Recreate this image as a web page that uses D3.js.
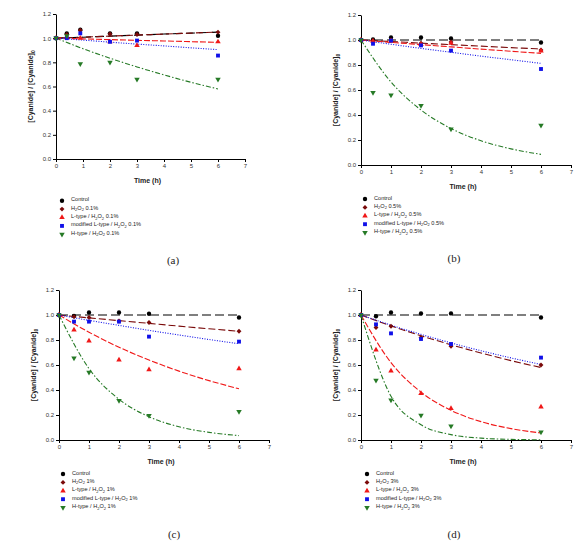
<!DOCTYPE html>
<html><head><meta charset="utf-8">
<script src="https://cdn.jsdelivr.net/npm/d3@7"></script>
<style>body{margin:0;background:#fff}svg{display:block}</style>
</head><body>
<script>
// ---------------- DATA ----------------
const panelLabels = ["(a)","(b)","(c)","(d)"];
const concentrations = ["0.1%","0.5%","1%","3%"];
const seriesKeys = ["control","h2o2","ltype","modl","htype"];
const xTicks = [0,1,2,3,4,5,6,7];
const yTicks = [0,0.2,0.4,0.6,0.8,1.0,1.2];
const fitTimes = [0,1,2,3,4,5,6];

const timesA = [0,0.4,0.9,2,3,6];
const timesB = [0,0.4,1,2,3,6];
const timesC = [0,0.5,1,2,3,6];
const timesD = [0,0.5,1,2,3,6];

// measured points
const a_control = [1.0,1.04,1.07,1.04,1.04,1.02];
const a_h2o2    = [1.0,1.03,1.065,1.035,1.03,1.05];
const a_ltype   = [1.0,1.01,1.0,0.97,0.94,0.97];
const a_modl    = [1.0,1.0,1.04,0.97,0.98,0.856];
const a_htype   = [1.0,1.02,0.787,0.80,0.66,0.66];

const b_control = [1,1.005,1.02,1.02,1.013,0.98];
const b_h2o2    = [1,0.995,1.0,0.975,0.985,0.92];
const b_ltype   = [1,0.99,0.99,0.965,0.975,0.912];
const b_modl    = [1,0.97,0.995,0.957,0.915,0.768];
const b_htype   = [1,0.579,0.56,0.475,0.288,0.317];

const c_control = [1,0.992,1.02,1.02,1.01,0.98];
const c_h2o2    = [1,0.987,0.98,0.952,0.94,0.87];
const c_ltype   = [1,0.88,0.792,0.64,0.563,0.571];
const c_modl    = [1,0.947,0.947,0.947,0.827,0.787];
const c_htype   = [1,0.656,0.541,0.315,0.195,0.227];

const d_control = [1,0.99,1.02,1.013,1.013,0.98];
const d_h2o2    = [1,0.90,0.91,0.82,0.75,0.60];
const d_ltype   = [1,0.72,0.552,0.373,0.253,0.264];
const d_modl    = [1,0.925,0.853,0.808,0.768,0.659];
const d_htype   = [1,0.477,0.32,0.197,0.112,0.064];

// fitted curves read at t = 0..6
const a_fit_control = [1.0,1.008,1.017,1.025,1.034,1.042,1.05];
const a_fit_h2o2    = [1.0,1.008,1.017,1.025,1.034,1.042,1.05];
const a_fit_ltype   = [1.0,0.994,0.988,0.982,0.977,0.971,0.965];
const a_fit_modl    = [1.0,0.984,0.967,0.951,0.936,0.920,0.905];
const a_fit_htype   = [1.0,0.913,0.834,0.762,0.696,0.635,0.58];

const b_fit_control = [1,1,1,1,1,1,1];
const b_fit_h2o2    = [1,0.988,0.975,0.963,0.951,0.939,0.928];
const b_fit_ltype   = [1,0.981,0.963,0.945,0.927,0.91,0.893];
const b_fit_modl    = [1,0.966,0.933,0.902,0.871,0.842,0.813];
const b_fit_htype   = [1,0.664,0.44,0.292,0.194,0.129,0.085];

const c_fit_control = [1,1,1,1,1,1,1];
const c_fit_h2o2    = [1,0.977,0.955,0.933,0.911,0.89,0.87];
const c_fit_ltype   = [1,0.862,0.742,0.64,0.551,0.475,0.41];
const c_fit_modl    = [1,0.957,0.917,0.877,0.84,0.804,0.77];
const c_fit_htype   = [1,0.571,0.326,0.186,0.106,0.061,0.035];

const d_fit_control = [1,1,1,1,1,1,1];
const d_fit_h2o2    = [1,0.913,0.834,0.762,0.696,0.635,0.58];
const d_fit_ltype   = [1,0.619,0.383,0.237,0.147,0.091,0.056];
const d_fit_modl    = [1,0.919,0.845,0.777,0.714,0.657,0.604];
const d_fit_htype   = [1,0.35,0.122,0.043,0.015,0.005,0.002];

// ---------------- STYLE / LAYOUT ----------------
const styles = {
  control:{color:"#000000", dash:"9,4", sym:d3.symbolCircle, size:15, rot:0},
  h2o2:   {color:"#7a0a0a", dash:"7,3", sym:d3.symbolSquare, size:12, rot:45},
  ltype:  {color:"#f01818", dash:"6,2", sym:d3.symbolTriangle, size:13, rot:0},
  modl:   {color:"#1010e8", dash:"1,1.5", sym:d3.symbolSquare, size:15, rot:0},
  htype:  {color:"#267a26", dash:"5,2,1.5,2", sym:d3.symbolTriangle, size:13, rot:180}
};
const panels = [
  {x0:56, x7:245, yTop:14, yBot:159, times:timesA,
   pts:[a_control,a_h2o2,a_ltype,a_modl,a_htype],
   fits:[a_fit_control,a_fit_h2o2,a_fit_ltype,a_fit_modl,a_fit_htype],
   legX:62, legY:200.7, lab:[173,260]},
  {x0:361, x7:571, yTop:15, yBot:165, times:timesB,
   pts:[b_control,b_h2o2,b_ltype,b_modl,b_htype],
   fits:[b_fit_control,b_fit_h2o2,b_fit_ltype,b_fit_modl,b_fit_htype],
   legX:365, legY:199, lab:[454,258]},
  {x0:59, x7:269, yTop:290, yBot:440, times:timesC,
   pts:[c_control,c_h2o2,c_ltype,c_modl,c_htype],
   fits:[c_fit_control,c_fit_h2o2,c_fit_ltype,c_fit_modl,c_fit_htype],
   legX:63, legY:474, lab:[174,534]},
  {x0:361, x7:571, yTop:290, yBot:440, times:timesD,
   pts:[d_control,d_h2o2,d_ltype,d_modl,d_htype],
   fits:[d_fit_control,d_fit_h2o2,d_fit_ltype,d_fit_modl,d_fit_htype],
   legX:367, legY:474, lab:[454,534]}
];

const svg = d3.select("body").append("svg").attr("width",586).attr("height",546)
  .style("font-family","Liberation Sans, Arial, sans-serif");

panels.forEach((p,pi)=>{
  const x = d3.scaleLinear().domain([0,7]).range([p.x0,p.x7]);
  const y = d3.scaleLinear().domain([0,1.2]).range([p.yBot,p.yTop]);
  const g = svg.append("g");

  const xa = g.append("g").attr("transform",`translate(0,${p.yBot})`)
    .call(d3.axisBottom(x).tickValues(xTicks).tickFormat(d3.format("d")).tickSize(3).tickSizeOuter(0));
  const ya = g.append("g").attr("transform",`translate(${p.x0},0)`)
    .call(d3.axisLeft(y).tickValues(yTicks).tickFormat(d3.format(".1f")).tickSize(3).tickSizeOuter(0));
  [xa,ya].forEach(a=>{
    a.select(".domain").attr("stroke","#000").attr("stroke-width",1);
    a.selectAll(".tick line").attr("stroke","#000");
    a.selectAll(".tick text").attr("font-size",6).attr("fill","#333").attr("font-family","Liberation Sans, Arial, sans-serif");
  });
  xa.selectAll(".tick text").attr("dy","0.9em").attr("y",4);
  ya.selectAll(".tick text").attr("x",-5);

  g.append("text").attr("x",(x(0)+x(7))/2 - 3).attr("y",p.yBot+24)
    .attr("text-anchor","middle").attr("font-size",7).attr("font-weight","bold").attr("fill","#222")
    .text("Time (h)");
  const yt = g.append("text")
    .attr("transform",`translate(${p.x0-23},${(p.yTop+p.yBot)/2}) rotate(-90)`)
    .attr("text-anchor","middle").attr("font-size",7).attr("font-weight","bold").attr("fill","#222");
  yt.append("tspan").text("[Cyanide] / [Cyanide]");
  yt.append("tspan").attr("font-size",5).attr("dy",2).text("0");

  // fit lines
  const line = d3.line().x(d=>x(d[0])).y(d=>y(d[1])).curve(d3.curveMonotoneX);
  seriesKeys.forEach((k,si)=>{
    const s = styles[k];
    g.append("path").datum(fitTimes.map((t,i)=>[t,p.fits[si][i]]))
      .attr("d",line).attr("fill","none").attr("stroke",s.color)
      .attr("stroke-width",1.1).attr("stroke-dasharray",s.dash);
  });
  // points
  seriesKeys.forEach((k,si)=>{
    const s = styles[k];
    const sym = d3.symbol().type(s.sym).size(s.size);
    g.append("g").selectAll("path").data(p.times.map((t,i)=>[t,p.pts[si][i]]))
      .join("path").attr("d",sym)
      .attr("transform",d=>`translate(${x(d[0])},${y(d[1])}) rotate(${s.rot})`)
      .attr("fill",s.color);
  });

  // legend
  const conc = concentrations[pi];
  const labels = [
    [["Control",0]],
    [["H",0],["2",1],["O",0],["2",1],[" "+conc,0]],
    [["L-type / H",0],["2",1],["O",0],["2",1],[" "+conc,0]],
    [["modified L-type / H",0],["2",1],["O",0],["2",1],[" "+conc,0]],
    [["H-type / H",0],["2",1],["O",0],["2",1],[" "+conc,0]]
  ];
  seriesKeys.forEach((k,si)=>{
    const s = styles[k];
    const ly = p.legY + si*8.4;
    g.append("path").attr("d",d3.symbol().type(s.sym).size(s.size)())
      .attr("transform",`translate(${p.legX},${ly}) rotate(${s.rot})`)
      .attr("fill",s.color);
    const t = g.append("text").attr("x",p.legX+9).attr("y",ly+2).attr("font-size",5.6).attr("fill","#222");
    labels[si].forEach(([str,sub])=>{
      t.append("tspan").attr("font-size",sub?4:5.6).attr("dy",sub?1.5:(t.selectAll("tspan").size()>0?-1.5:0)).text(str);
    });
  });

  g.append("text").attr("x",p.lab[0]).attr("y",p.lab[1]+4).attr("text-anchor","middle")
    .attr("font-family","Liberation Serif, 'DejaVu Serif', serif").attr("font-size",11).attr("fill","#222")
    .text(panelLabels[pi]);
});
</script>
</body></html>
